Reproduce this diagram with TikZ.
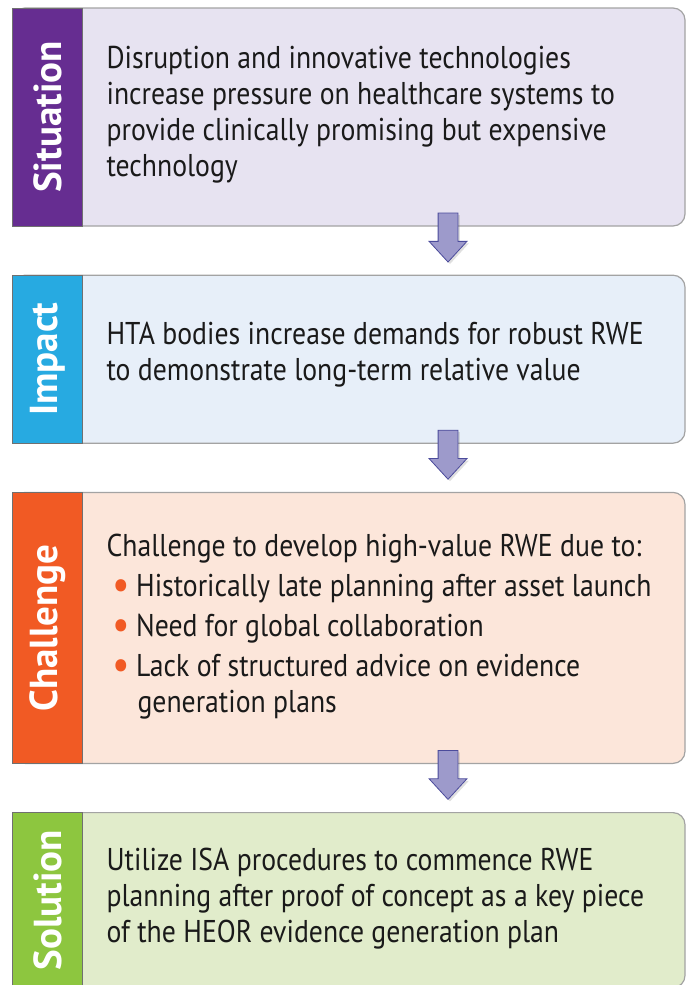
\documentclass[tikz,border=0pt]{standalone}
\usepackage{fontspec}
\usepackage{xcolor}
\setmainfont{PT Sans}[FakeStretch=0.88]
\newfontfamily\tabfont{PT Sans}
\usetikzlibrary{positioning, shapes.arrows, shadows}
\definecolor{linegray}{HTML}{A3A3A3}
\definecolor{tabgray}{HTML}{707070}
\definecolor{sitcol}{HTML}{662D91}
\definecolor{sitfill}{HTML}{E7E3F1}
\definecolor{impcol}{HTML}{27AAE1}
\definecolor{impfill}{HTML}{E7EFF9}
\definecolor{chalcol}{HTML}{F15A24}
\definecolor{chalfill}{HTML}{FCE6DA}
\definecolor{solcol}{HTML}{8DC63F}
\definecolor{solfill}{HTML}{E1ECCB}
\definecolor{arrowfill}{HTML}{9D9ACB}
\definecolor{arrowdraw}{HTML}{4B4B9B}
\definecolor{ink}{HTML}{1A1A1A}
\tikzstyle{box} = [rectangle, rounded corners=12pt, minimum width=672pt, draw=linegray, line width=1.2pt]
\tikzstyle{tab} = [rectangle, rotate=90, anchor=north, minimum height=70pt, draw=tabgray, line width=1pt, text=white, font=\tabfont\bfseries\fontsize{39}{39}\selectfont]
\tikzstyle{txt} = [align=left, anchor=west, inner sep=0pt, text=ink, font=\fontsize{31.5}{36}\selectfont]
\tikzstyle{flow} = [single arrow, rotate=-90, anchor=tail, minimum height=49pt, minimum width=37pt, inner sep=0pt, text height=19pt, text depth=0pt, single arrow head extend=9pt, single arrow tip angle=85, fill=arrowfill, draw=arrowdraw, line width=0.8pt, drop shadow={opacity=0.25, shadow xshift=2pt, shadow yshift=-2pt}]
\newcommand{\bul}{\hspace*{6pt}\textcolor{chalcol}{\raisebox{-3pt}{\scalebox{1.4}{\textbullet}}}\hspace{6pt}}

\begin{document}
\begin{tikzpicture}[x=1pt, y=-1pt, node distance=48pt]
    \useasboundingbox (0,0) rectangle (688,985);
    \node (box1) [box, fill=sitfill, minimum height=218pt] at (349,117) {};
    \node (box2) [box, fill=impfill, minimum height=168pt, below = of box1] {};
    \node (box3) [box, fill=chalfill, minimum height=271pt, below = of box2] {};
    \node (box4) [box, fill=solfill, minimum height=175pt, below = of box3] {};
    \node (tab1) [tab, fill=sitcol, minimum width=218pt] at (box1.west) {Situation};
    \node (tab2) [tab, fill=impcol, minimum width=168pt] at (box2.west) {Impact};
    \node (tab3) [tab, fill=chalcol, minimum width=271pt] at (box3.west) {Challenge};
    \node (tab4) [tab, fill=solcol, minimum width=175pt] at (box4.west) {Solution};
    \node (txt1) [txt] at ([xshift=94pt, yshift=2pt]box1.west) {Disruption and innovative technologies\\increase pressure on healthcare systems to\\provide clinically promising but expensive\\technology};
    \node (txt2) [txt] at ([xshift=94pt, yshift=5pt]box2.west) {HTA bodies increase demands for robust RWE\\to demonstrate long-term relative value};
    \node (txt3) [txt] at ([xshift=94pt, yshift=1pt]box3.west) {Challenge to develop high-value RWE due to:\\[4pt]\bul Historically late planning after asset launch\\[4pt]\bul Need for global collaboration\\[4pt]\bul Lack of structured advice on evidence\\\hspace*{31pt}generation plans};
    \node (txt4) [txt] at ([xshift=94pt, yshift=1pt]box4.west) {Utilize ISA procedures to commence RWE\\planning after proof of concept as a key piece\\of the HEOR evidence generation plan};
    \node (arr1) [flow] at ([xshift=99pt, yshift=14pt]box1.south) {};
    \node (arr2) [flow] at ([xshift=99pt, yshift=14pt]box2.south) {};
    \node (arr3) [flow] at ([xshift=99pt, yshift=14pt]box3.south) {};
\end{tikzpicture}
\end{document}
